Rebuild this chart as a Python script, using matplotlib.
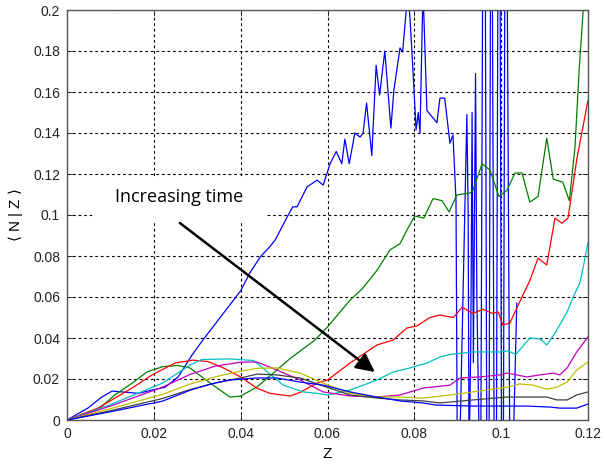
import numpy as np
import matplotlib
matplotlib.use("Agg")
import matplotlib.pyplot as plt
from matplotlib.patches import Rectangle

# ---------------- data ----------------
z_t1 = [0, 0.0048, 0.008, 0.0104, 0.0127, 0.0164, 0.0196, 0.0226, 0.0256, 0.0288, 0.0313, 0.036, 0.040,
        0.0421, 0.0445, 0.0467, 0.048, 0.0507, 0.052, 0.053, 0.0537, 0.0553, 0.0576, 0.059, 0.0606, 0.062,
        0.0633, 0.064, 0.065, 0.0663, 0.0675, 0.0682, 0.069, 0.0702, 0.0712, 0.072, 0.0732, 0.0746, 0.0753,
        0.0767, 0.0773, 0.078, 0.0785, 0.079, 0.0797, 0.0804, 0.0809, 0.0813, 0.082, 0.0829, 0.0852, 0.0859,
        0.087, 0.0882, 0.0889, 0.0896, 0.0899, 0.0904, 0.0921, 0.0924, 0.0926, 0.0930, 0.0933, 0.0936, 0.0941,
        0.0944, 0.0950, 0.0953, 0.0958, 0.0963, 0.0967, 0.0972, 0.0976, 0.0979, 0.0984, 0.0989, 0.0993, 0.0997,
        0.1001, 0.1005, 0.1009, 0.1013, 0.1020, 0.1027, 0.1036]
n_t1 = [0, 0.0058, 0.0112, 0.0141, 0.0137, 0.013, 0.0146, 0.016, 0.021, 0.0317, 0.039, 0.052, 0.063,
        0.0717, 0.0795, 0.0845, 0.088, 0.099, 0.104, 0.104, 0.107, 0.1137, 0.117, 0.1146, 0.125, 0.131,
        0.125, 0.137, 0.125, 0.140, 0.138, 0.140, 0.1546, 0.129, 0.173, 0.1585, 0.180, 0.1424, 0.161,
        0.1815, 0.1795, 0.1966, 0.21, 0.196, 0.170, 0.1415, 0.15, 0.14, 0.21, 0.151, 0.145, 0.157,
        0.157, 0.135, 0.139, 0.107, -0.02, -0.02, 0.149, 0.10, -0.02, 0.036, 0.15, 0.028, 0.169,
        0.06, -0.02, -0.02, 0.25, 0.25, -0.02, -0.02, 0.25, 0.25, -0.02, -0.02, 0.25, 0.25,
        -0.02, -0.02, 0.25, 0.25, -0.02, -0.02, 0.057]

z_t2 = [0, 0.0071, 0.011, 0.015, 0.0184, 0.022, 0.0255, 0.0283, 0.033, 0.0375, 0.04, 0.0437, 0.0475, 0.0514,
        0.0571, 0.06, 0.0652, 0.068, 0.0714, 0.0744, 0.0767, 0.0783, 0.0801, 0.0822, 0.0843, 0.0864, 0.088,
        0.0898, 0.0928, 0.0935, 0.0956, 0.0974, 0.0995, 0.1013, 0.1032, 0.1048, 0.1066, 0.1085, 0.1105, 0.112,
        0.1142, 0.1157, 0.117, 0.118, 0.1189, 0.1195]
n_t2 = [0, 0.0049, 0.0122, 0.018, 0.0234, 0.026, 0.0266, 0.0254, 0.018, 0.0112, 0.0117, 0.016, 0.0229, 0.030,
        0.039, 0.0454, 0.0585, 0.064, 0.073, 0.083, 0.086, 0.0927, 0.0995, 0.0985, 0.108, 0.107, 0.1015,
        0.1098, 0.1107, 0.112, 0.125, 0.122, 0.109, 0.112, 0.1205, 0.1205, 0.1063, 0.109, 0.1375, 0.1175,
        0.116, 0.107, 0.133, 0.172, 0.2, 0.215]

z_t3 = [0, 0.0071, 0.015, 0.0196, 0.0249, 0.029, 0.0325, 0.036, 0.04, 0.0437, 0.0467, 0.0514, 0.0537, 0.0576,
        0.06, 0.0652, 0.0714, 0.0751, 0.0783, 0.0806, 0.0836, 0.0859, 0.089, 0.091, 0.0935, 0.0958, 0.098,
        0.0993, 0.1004, 0.102, 0.1048, 0.1066, 0.1085, 0.1105, 0.1124, 0.114, 0.1154, 0.1174, 0.12]
n_t3 = [0, 0.0058, 0.0156, 0.022, 0.0278, 0.0292, 0.0285, 0.0254, 0.021, 0.0156, 0.013, 0.0117, 0.0135, 0.018,
        0.0195, 0.0278, 0.0366, 0.039, 0.0449, 0.0459, 0.050, 0.0512, 0.050, 0.055, 0.052, 0.054, 0.052,
        0.0527, 0.0463, 0.0473, 0.060, 0.068, 0.079, 0.0756, 0.0985, 0.096, 0.0985, 0.127, 0.156]

z_t4 = [0, 0.01, 0.022, 0.0283, 0.031, 0.0375, 0.043, 0.0467, 0.0498, 0.0544, 0.0576, 0.06, 0.0652, 0.0714,
        0.0751, 0.079, 0.0829, 0.0859, 0.0882, 0.0935, 0.0997, 0.1016, 0.1034, 0.1066, 0.109, 0.1105, 0.1124,
        0.1152, 0.1166, 0.1182, 0.12]
n_t4 = [0, 0.0075, 0.018, 0.0268, 0.0295, 0.0298, 0.029, 0.0225, 0.017, 0.0137, 0.013, 0.0122, 0.0146, 0.0195,
        0.0234, 0.0254, 0.0278, 0.0307, 0.032, 0.0332, 0.0332, 0.0337, 0.032, 0.040, 0.0395, 0.0366, 0.0424,
        0.0527, 0.060, 0.0673, 0.0863]

z_t5 = [0, 0.01, 0.022, 0.0283, 0.034, 0.04, 0.0437, 0.0465, 0.0483, 0.0537, 0.059, 0.0652, 0.0714, 0.0767,
        0.082, 0.0882, 0.0905, 0.095, 0.0997, 0.1013, 0.1036, 0.1059, 0.109, 0.112, 0.1135, 0.1152, 0.1174, 0.12]
n_t5 = [0, 0.0068, 0.016, 0.0222, 0.0262, 0.0282, 0.0283, 0.026, 0.0244, 0.0195, 0.0137, 0.0117, 0.0112, 0.0122,
        0.0156, 0.017, 0.0205, 0.021, 0.022, 0.0229, 0.022, 0.021, 0.022, 0.0229, 0.022, 0.0254, 0.0332, 0.0405]

z_t6 = [0, 0.01, 0.022, 0.0283, 0.035, 0.04, 0.0438, 0.0483, 0.0537, 0.059, 0.0652, 0.0714, 0.0767, 0.082,
        0.0882, 0.0935, 0.1013, 0.1043, 0.1074, 0.1105, 0.1128, 0.1152, 0.1174, 0.12]
n_t6 = [0, 0.0055, 0.0125, 0.0175, 0.0215, 0.0238, 0.0252, 0.0254, 0.0229, 0.018, 0.013, 0.0112, 0.0112, 0.0107,
        0.0122, 0.0137, 0.016, 0.0176, 0.017, 0.015, 0.016, 0.0185, 0.0244, 0.0283]

z_t7 = [0, 0.01, 0.022, 0.0283, 0.035, 0.04, 0.0438, 0.0483, 0.0537, 0.059, 0.0652, 0.0714, 0.0767, 0.082,
        0.0859, 0.0935, 0.1013, 0.1074, 0.1105, 0.1128, 0.1152, 0.1174, 0.12]
n_t7 = [0, 0.0045, 0.0105, 0.0148, 0.0185, 0.0205, 0.0224, 0.022, 0.0205, 0.0166, 0.0122, 0.0107, 0.0098, 0.0093,
        0.0083, 0.0098, 0.0112, 0.0112, 0.0112, 0.0098, 0.0098, 0.0122, 0.0137]

z_t8 = [0, 0.01, 0.022, 0.0283, 0.033, 0.0375, 0.0437, 0.0483, 0.0537, 0.059, 0.0652, 0.0714, 0.0767, 0.082,
        0.085, 0.0935, 0.1059, 0.1113, 0.1135, 0.1174, 0.12]
n_t8 = [0, 0.004, 0.0092, 0.0145, 0.0175, 0.0195, 0.0205, 0.0205, 0.0185, 0.017, 0.0137, 0.0112, 0.0093, 0.0083,
        0.0073, 0.0068, 0.0068, 0.0063, 0.0058, 0.0058, 0.0078]

series = [(z_t1, n_t1), (z_t2, n_t2), (z_t3, n_t3), (z_t4, n_t4),
          (z_t5, n_t5), (z_t6, n_t6), (z_t7, n_t7), (z_t8, n_t8)]
colors = ["#0000ff", "#008000", "#ff0000", "#00bfbf", "#bf00bf", "#bfbf00", "#404040", "#0000ff"]

x_ticks = [0, 0.02, 0.04, 0.06, 0.08, 0.1, 0.12]
x_tick_labels = ["0", "0.02", "0.04", "0.06", "0.08", "0.1", "0.12"]
y_ticks = [0, 0.02, 0.04, 0.06, 0.08, 0.1, 0.12, 0.14, 0.16, 0.18, 0.2]
y_tick_labels = ["0", "0.02", "0.04", "0.06", "0.08", "0.1", "0.12", "0.14", "0.16", "0.18", "0.2"]

annotation_text = "Increasing time"

# ---------------- figure ----------------
plt.rcParams["font.family"] = ["Liberation Sans", "DejaVu Sans"]
W, H = 605, 466
fig = plt.figure(figsize=(W / 100, H / 100), dpi=100)
ax = fig.add_axes([67 / W, (H - 420) / H, (588 - 67) / W, (420 - 10) / H])

for (z, n), c in zip(series, colors):
    ax.plot(z, n, color=c, lw=0.9, zorder=2)

ax.set_xlim(0, 0.12)
ax.set_ylim(0, 0.2)
ax.set_xticks(x_ticks)
ax.set_xticklabels(x_tick_labels)
ax.set_yticks(y_ticks)
ax.set_yticklabels(y_tick_labels)
ax.tick_params(direction="in", length=4, width=0.6, labelsize=10, colors="#222222",
               top=True, right=True, pad=5)
ax.grid(True, color="black", linestyle=(0, (2.5, 2.5)), linewidth=0.8)
ax.set_axisbelow(True)
for s in ax.spines.values():
    s.set_color("#555555")
    s.set_linewidth(1.0)

ax.set_xlabel("Z", fontsize=11, labelpad=4)
ax.set_ylabel(r"$\langle$ N | Z $\rangle$", fontsize=11, labelpad=6)

# white box behind the annotation text
ax.add_patch(Rectangle((0.00576, 0.0966), 0.0403, 0.0214, facecolor="white",
                       edgecolor="none", zorder=1.5))
ax.text(0.0258, 0.1088, annotation_text, ha="center", va="center", fontsize=13,
        family=["Open Sans", "DejaVu Sans"], zorder=5)
ax.annotate("", xy=(0.0709, 0.0234), xytext=(0.026, 0.0961),
            arrowprops=dict(arrowstyle="-|>", lw=1.8, color="black", mutation_scale=28,
                            shrinkA=0, shrinkB=0),
            zorder=6)

fig.savefig("out.png", dpi=100)
